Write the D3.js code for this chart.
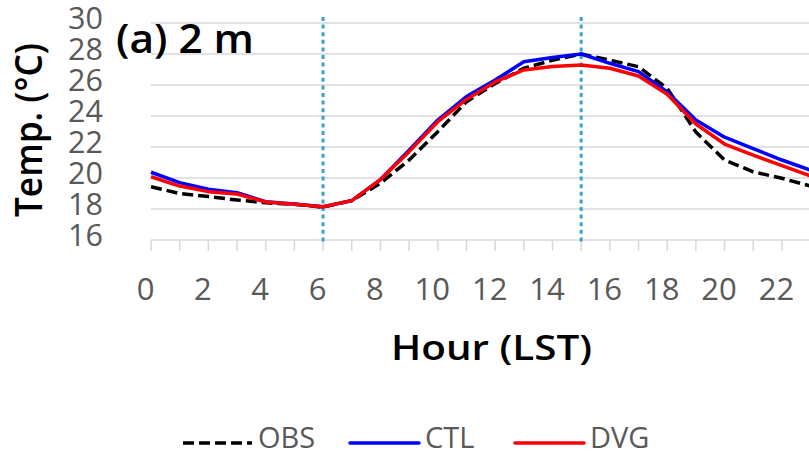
<!DOCTYPE html>
<html>
<head>
<meta charset="utf-8">
<script src="https://cdn.jsdelivr.net/npm/d3@7/dist/d3.min.js"></script>
<style>
  html, body { margin: 0; padding: 0; background: #fff; }
  svg { display: block; }
</style>
</head>
<body>
<svg id="chart" width="809" height="456"></svg>
<script>
// Hourly 2 m air temperature (°C), local standard time
const hours = d3.range(0, 24);
const obs = [19.44, 19.0, 18.8, 18.58, 18.4, 18.3, 18.12, 18.54, 19.66, 21.16, 22.99, 24.92,
             26.1, 27.08, 27.6, 28.0, 27.6, 27.18, 25.78, 22.96, 21.16, 20.4, 19.98, 19.48];
const ctl = [20.37, 19.7, 19.27, 19.05, 18.47, 18.32, 18.15, 18.54, 19.9, 21.8, 23.74, 25.25,
             26.32, 27.5, 27.78, 28.0, 27.4, 26.86, 25.55, 23.74, 22.63, 21.9, 21.16, 20.5];
const dvg = [20.08, 19.48, 19.12, 18.97, 18.45, 18.3, 18.15, 18.54, 19.9, 21.7, 23.63, 25.07,
             26.2, 26.97, 27.2, 27.29, 27.08, 26.58, 25.4, 23.48, 22.19, 21.48, 20.8, 20.13];
const yTicks = [16, 18, 20, 22, 24, 26, 28, 30];
const xTickLabels = [0, 2, 4, 6, 8, 10, 12, 14, 16, 18, 20, 22];
const markerHours = [6, 15];
const seriesNames = ["OBS", "CTL", "DVG"];

const svg = d3.select("#chart");
const plotLeft = 151, plotRight = 810.6, plotTop = 23, plotBottom = 240;

const x = d3.scaleLinear().domain([0, 23]).range([plotLeft, plotRight]);
const y = d3.scaleLinear().domain([16, 30]).range([plotBottom, plotTop]);

const grey = "#d9d9d9";
const tickGrey = "#595959";
const font = "'Open Sans', 'Noto Sans', sans-serif";

// horizontal gridlines
svg.append("g")
  .selectAll("line")
  .data(yTicks)
  .join("line")
  .attr("x1", plotLeft).attr("x2", plotRight)
  .attr("y1", d => y(d)).attr("y2", d => y(d))
  .attr("stroke", grey).attr("stroke-width", 1.5);

// hour ticks under the axis
svg.append("g")
  .selectAll("line")
  .data(hours)
  .join("line")
  .attr("x1", d => x(d)).attr("x2", d => x(d))
  .attr("y1", plotBottom).attr("y2", plotBottom + 11)
  .attr("stroke", grey).attr("stroke-width", 1.5);

// y tick labels
svg.append("g")
  .selectAll("text")
  .data(yTicks)
  .join("text")
  .attr("x", 103)
  .attr("y", d => y(d) + 5.5)
  .attr("text-anchor", "end")
  .attr("font-family", font)
  .attr("font-size", 30.5)
  .attr("fill", tickGrey)
  .text(d => d);

// x tick labels
svg.append("g")
  .selectAll("text")
  .data(xTickLabels)
  .join("text")
  .attr("x", d => x(d) - 5.5)
  .attr("y", 299.5)
  .attr("text-anchor", "middle")
  .attr("font-family", font)
  .attr("font-size", 31)
  .attr("fill", tickGrey)
  .text(d => d);

// vertical markers at sunrise / peak hours
svg.append("g")
  .selectAll("line")
  .data(markerHours)
  .join("line")
  .attr("x1", d => x(d)).attr("x2", d => x(d))
  .attr("y1", 17).attr("y2", 244)
  .attr("stroke", "#35a6c4")
  .attr("stroke-width", 3)
  .attr("stroke-dasharray", "4,3.6");

const line = d3.line().x((d, i) => x(hours[i])).y(d => y(d));

const styles = {
  OBS: { data: obs, color: "#000000", dash: "11,5" },
  CTL: { data: ctl, color: "#0000ff", dash: null },
  DVG: { data: dvg, color: "#ff0000", dash: null }
};

// draw OBS first, then CTL, then DVG on top
seriesNames.forEach(name => {
  const s = styles[name];
  svg.append("path")
    .datum(s.data)
    .attr("d", line)
    .attr("fill", "none")
    .attr("stroke", s.color)
    .attr("stroke-width", 3.5)
    .attr("stroke-linejoin", "round")
    .attr("stroke-dasharray", s.dash);
});

// panel title
svg.append("text")
  .attr("x", 116)
  .attr("y", 53)
  .attr("font-family", font)
  .attr("font-size", 40)
  .attr("font-weight", 600)
  .attr("fill", "#000")
  .attr("textLength", 138)
  .attr("lengthAdjust", "spacingAndGlyphs")
  .text("(a) 2 m");

// axis titles
svg.append("text")
  .attr("x", 391)
  .attr("y", 360)
  .attr("font-family", font)
  .attr("font-size", 35)
  .attr("font-weight", 600)
  .attr("fill", "#000")
  .attr("textLength", 201)
  .attr("lengthAdjust", "spacingAndGlyphs")
  .text("Hour (LST)");

svg.append("text")
  .attr("transform", "translate(41.5,217) rotate(-90)")
  .attr("font-family", font)
  .attr("font-size", 38)
  .attr("font-weight", 600)
  .attr("fill", "#000")
  .attr("textLength", 174)
  .attr("lengthAdjust", "spacingAndGlyphs")
  .text("Temp. (°C)");

// legend
const legendX = { OBS: 183, CTL: 350, DVG: 515 };
const legend = svg.append("g");
seriesNames.forEach(name => {
  const s = styles[name];
  const x0 = legendX[name];
  legend.append("line")
    .attr("x1", x0).attr("x2", x0 + 69)
    .attr("y1", 443).attr("y2", 443)
    .attr("stroke", s.color)
    .attr("stroke-width", 3.5)
    .attr("stroke-linecap", s.dash ? "butt" : "round")
    .attr("stroke-dasharray", s.dash);
  legend.append("text")
    .attr("x", x0 + 75)
    .attr("y", 448)
    .attr("font-family", font)
    .attr("font-size", 29)
    .attr("fill", tickGrey)
    .text(name);
});
</script>
</body>
</html>
